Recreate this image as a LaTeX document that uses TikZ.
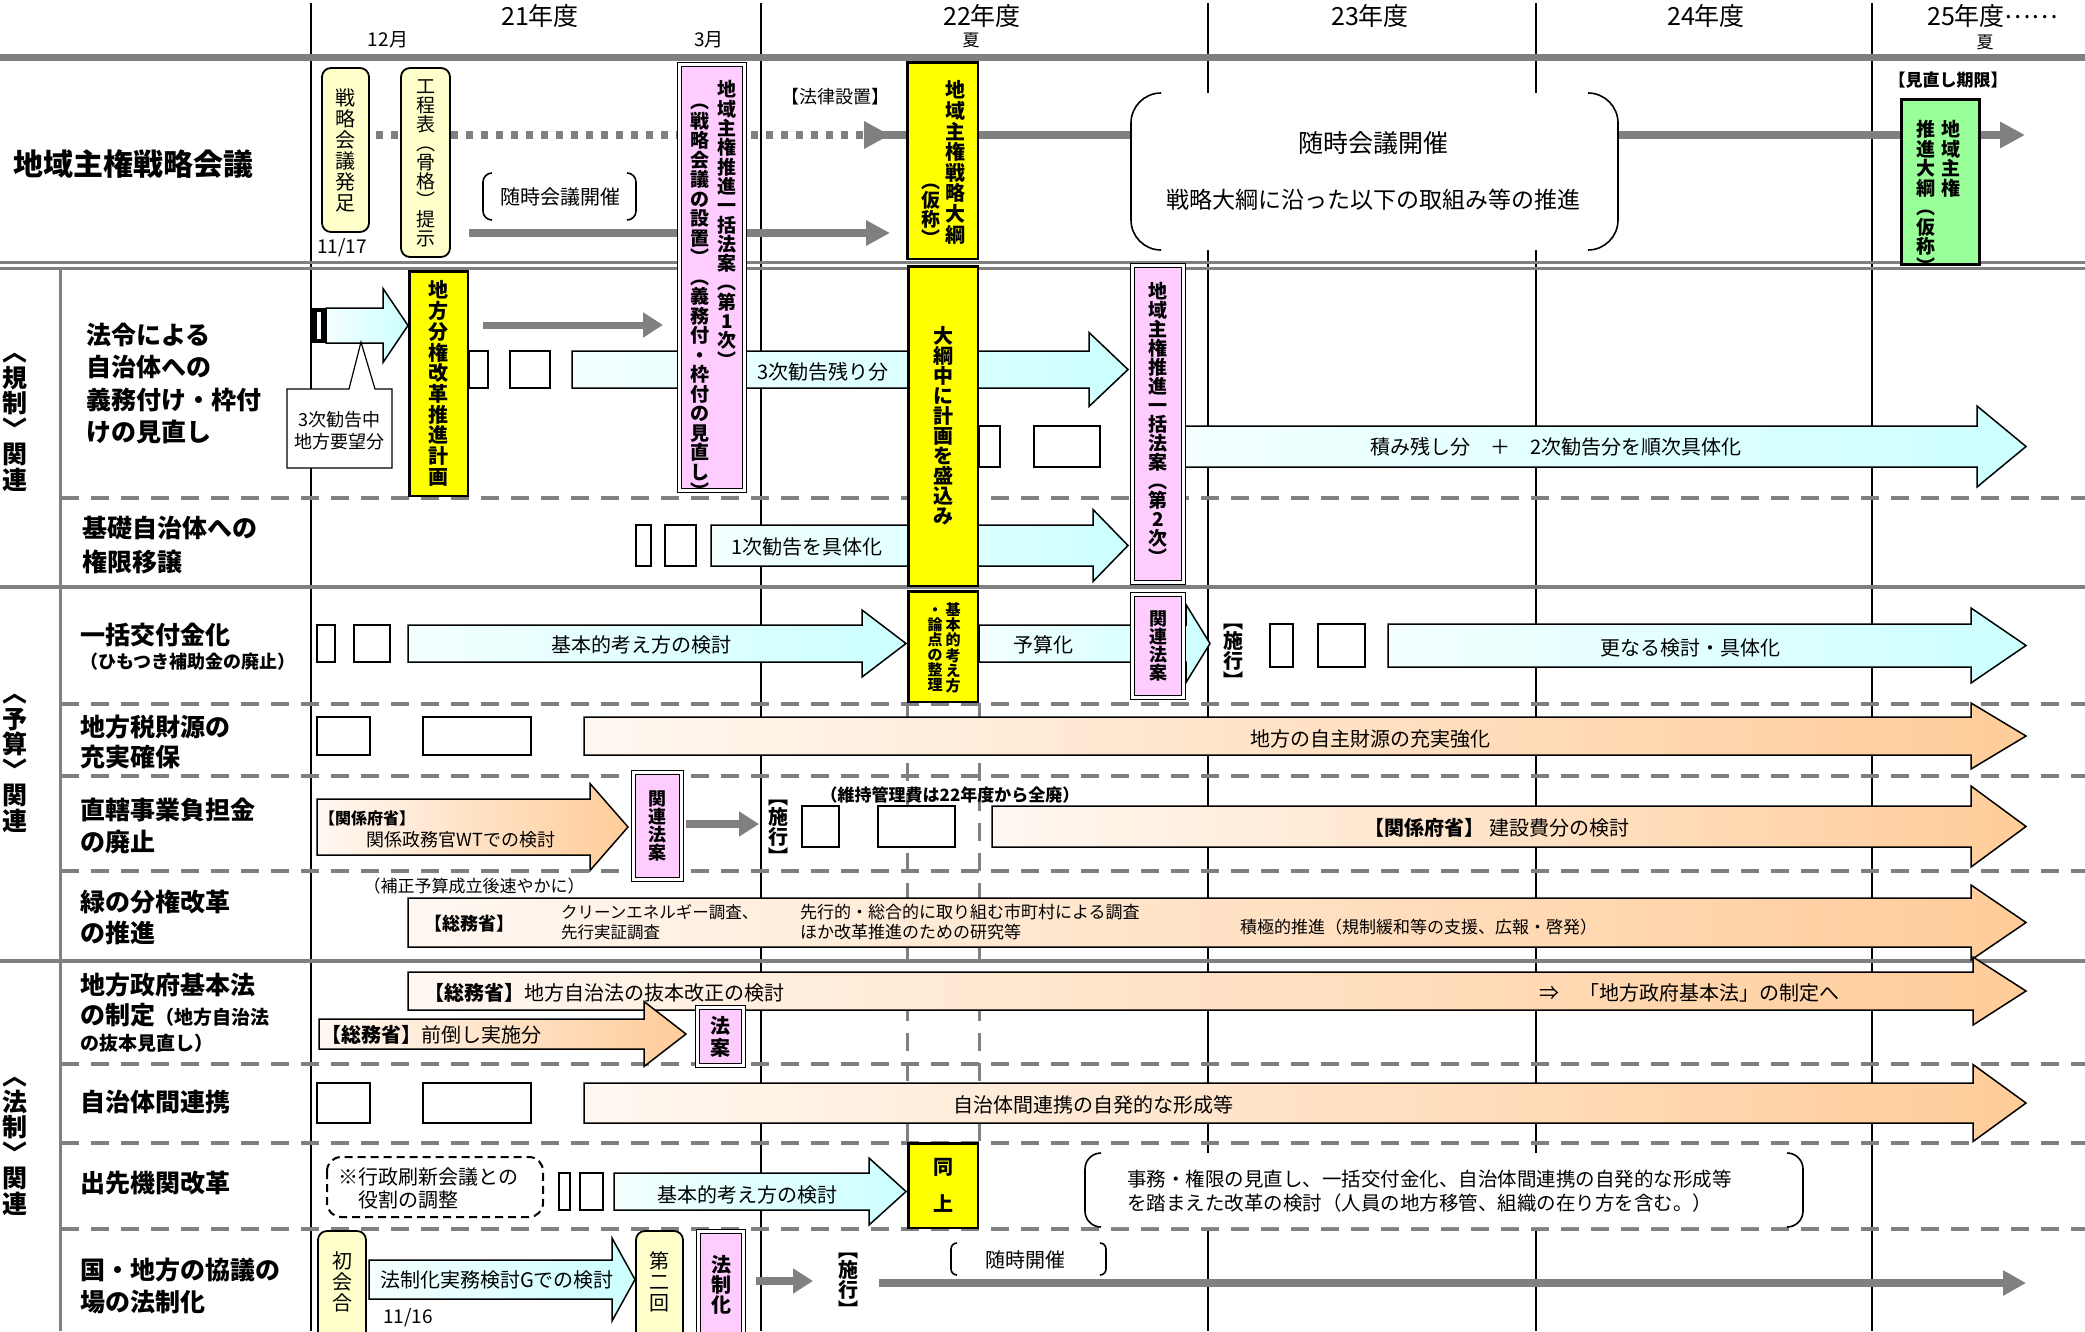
\documentclass[tikz,border=0pt]{standalone}
\usepackage{fontspec}
\setmainfont{Noto Sans CJK JP}
\usetikzlibrary{arrows.meta}

\definecolor{lgray}{HTML}{808080}
\definecolor{cyanA}{HTML}{CCFFFF}
\definecolor{cyanL}{HTML}{F4FFFF}
\definecolor{orangeA}{HTML}{FFCC99}
\definecolor{orangeL}{HTML}{FFF8F2}
\definecolor{pinkc}{HTML}{FFCCFF}
\definecolor{creamc}{HTML}{FFFFCC}
\definecolor{yellowc}{HTML}{FFFF00}
\definecolor{greenc}{HTML}{99FF99}

\newcommand\fs[2]{\fontsize{#1}{#2}\selectfont}
% vertical (tategaki) stack of characters
\makeatletter
\newcommand\vt[2][0pt]{\vbox{\offinterlineskip\@tfor\vtch:=#2\do{\hbox to 1em{\vrule height .88em depth .12em width 0pt\hss\vtch\hss}\kern#1}\unkern}}
\makeatother

% block arrow: x1, x2, y centre, body half, head half, head length
\newcommand\barrow[7][cyanarrow]{%
  \draw[#1] (#2,{#4-#5}) -- ({#3-#7},{#4-#5}) -- ({#3-#7},{#4-#6}) -- (#3,#4)
    -- ({#3-#7},{#4+#6}) -- ({#3-#7},{#4+#5}) -- (#2,{#4+#5}) -- cycle;}
% box with round brackets only
\newcommand\bracketbox[5]{%
  \fill[white, rounded corners=#5] (#1,#2) rectangle (#3,#4);
  \draw[bracket, rounded corners=#5] ({#1+#5},#2) -- (#1,#2) -- (#1,#4) -- ({#1+#5},#4);
  \draw[bracket, rounded corners=#5] ({#3-#5},#2) -- (#3,#2) -- (#3,#4) -- ({#3-#5},#4);}

\tikzset{
  yearline/.style={draw=black, line width=1.3pt},
  grprule/.style={draw=lgray, line width=4pt},
  rowrule/.style={draw=lgray, line width=4pt, dash pattern=on 18pt off 12pt},
  colrule/.style={draw=lgray, line width=3pt, dash pattern=on 18pt off 12pt},
  garrow/.style={draw=lgray, line width=8pt, -{Triangle[length=20pt,width=24pt]}},
  cyanarrow/.style={draw=black, line width=1.5pt, left color=cyanL, right color=cyanA},
  orangearrow/.style={draw=black, line width=1.5pt, left color=orangeL, right color=orangeA},
  wbox/.style={draw=black, line width=1.5pt, fill=white},
  creambox/.style={draw=black, line width=1.8pt, fill=creamc, rounded corners=9pt, inner sep=0pt, font=\fs{20}{20}},
  yellowbox/.style={draw=black, line width=2.5pt, fill=yellowc, inner sep=0pt, font=\bfseries\fs{20}{20}},
  pinkbox/.style={draw=black, line width=1.2pt, double=white, double distance=2.5pt, fill=pinkc, inner sep=0pt, font=\bfseries\fs{19}{19}},
  greenbox/.style={draw=black, line width=3pt, fill=greenc, inner sep=0pt},
  bracket/.style={draw=black, line width=1.6pt},
  vcol/.style={inner sep=0pt, font=\bfseries\fs{19}{19}},
  txt/.style={inner sep=0pt, font=\fs{20}{24}},
  yeartxt/.style={inner sep=0pt, font=\fs{25}{28}},
  rowlabel/.style={inner sep=0pt, anchor=west, align=left, font=\bfseries\fs{25}{32.5}},
}

\begin{document}
\begin{tikzpicture}[x=1pt, y=-1pt, line join=miter]
\fill[white] (0,0) rectangle (2085,1331);
\useasboundingbox (0,0) rectangle (2085,1331);

% grid
\foreach \xx in {311,761,1208,1536,1872} \draw[yearline] (\xx,3) -- (\xx,1331);
\draw[lgray, line width=7pt] (0,57) -- (2085,57);
\draw[lgray, line width=2.5pt] (0,262.5) -- (2085,262.5);
\draw[lgray, line width=2.5pt] (0,268.5) -- (2085,268.5);
\draw[lgray, line width=3pt] (60,268) -- (60,1331);
\foreach \yy in {587,961} \draw[grprule] (0,\yy) -- (2085,\yy);
\foreach \yy in {498,704,776,871,1064,1143,1229} \draw[rowrule] (61,\yy) -- (2085,\yy);
\foreach \xx in {907,979} \draw[colrule] (\xx,703) -- (\xx,1142);

% years
\node[yeartxt] (y21) at (540,16) {21年度};
\node[yeartxt] (y22) at (982,16) {22年度};
\node[yeartxt] (y23) at (1370,16) {23年度};
\node[yeartxt] (y24) at (1706,16) {24年度};
\node[yeartxt, anchor=west] (y25) at (1927,16) {25年度\raisebox{.3em}{……}};
\node[txt, font=\fs{19}{22}] (m12) at (388,40) {12月};
\node[txt, font=\fs{19}{22}] (m3) at (709,40) {3月};
\node[txt, font=\fs{17}{20}] (natsu22) at (971,40) {夏};
\node[txt, font=\fs{17}{20}] (natsu25) at (1985,42) {夏};

% group labels
\node[vcol, font=\bfseries\fs{25}{25}] (kisei) at (15,416) {\vt[0.5pt]{︿規制﹀関連}};
\node[vcol, font=\bfseries\fs{25}{25}] (yosan) at (15,757) {\vt[0.5pt]{︿予算﹀関連}};
\node[vcol, font=\bfseries\fs{25}{25}] (hosei) at (15,1140) {\vt[0.5pt]{︿法制﹀関連}};

% row labels
\node[rowlabel, font=\bfseries\fs{30}{36}] (kaigi) at (13,164) {地域主権戦略会議};
\node[rowlabel] (horei) at (86,383.5) {法令による\\自治体への\\義務付け・枠付\\けの見直し};
\node[rowlabel, font=\bfseries\fs{25}{34}] (kiso) at (82,545) {基礎自治体への\\権限移譲};
\node[rowlabel] (ikkatsu) at (80,635) {一括交付金化};
\node[rowlabel, font=\bfseries\fs{18}{21}] (himotsuki) at (80,662) {（ひもつき補助金の廃止）};
\node[rowlabel, font=\bfseries\fs{25}{30}] (zeigen) at (80,742) {地方税財源の\\充実確保};
\node[rowlabel] (chokkatsu) at (80,826) {直轄事業負担金\\の廃止};
\node[rowlabel, font=\bfseries\fs{25}{31}] (midori) at (80,917.5) {緑の分権改革\\の推進};
\node[rowlabel] (kihonho) at (80,985) {地方政府基本法};
\node[rowlabel] (seiteiL) at (80,1015) {の制定{\fs{19}{22}（地方自治法}};
\node[rowlabel, font=\bfseries\fs{19}{22}] (bapponL) at (80,1043) {の抜本見直し）};
\node[rowlabel] (renkeiL) at (80,1102) {自治体間連携};
\node[rowlabel] (demisakiL) at (80,1183) {出先機関改革};
\node[rowlabel] (kyogi) at (80,1286) {国・地方の協議の\\場の法制化};

% gray connectors
\coordinate (dotS) at (376,135); \coordinate (dotE) at (890,135);
\draw[garrow, dash pattern=on 7pt off 8pt, -{Triangle[length=26pt,width=26pt]}] (dotS) -- (dotE);
\coordinate (mainS) at (878,135); \coordinate (mainE) at (2025,135);
\draw[garrow, -{Triangle[length=25pt,width=25pt]}] (mainS) -- (mainE);
\coordinate (zuiS) at (469,233); \coordinate (zuiE) at (890,233);
\draw[garrow, -{Triangle[length=24pt,width=24pt]}] (zuiS) -- (zuiE);
\coordinate (keiS) at (483,325); \coordinate (keiE) at (663,325);
\draw[garrow, line width=7pt] (keiS) -- (keiE);
\coordinate (kanS) at (686,824); \coordinate (kanE) at (759,824);
\draw[garrow] (kanS) -- (kanE);
\coordinate (hoS) at (756,1281); \coordinate (hoE) at (813,1281);
\draw[garrow] (hoS) -- (hoE);
\coordinate (zuiBS) at (879,1283); \coordinate (zuiBE) at (2026,1283);
\draw[garrow, -{Triangle[length=23pt,width=24pt]}] (zuiBS) -- (zuiBE);

% small white boxes
\foreach \a/\b/\c/\d in {469/351/488/388, 510/351/550/388, 979/426/1000/467, 1034/426/1100/467,
  636/525/651/566, 665/525/696/566, 317/625/335/662, 354/625/390/662, 1270/624/1293/667,
  1318/624/1365/667, 317/717/370/755, 423/717/531/755, 802/806/839/847, 878/806/955/847,
  317/1083/370/1123, 423/1083/531/1123, 559/1173/570/1210, 580/1173/603/1210}
  \draw[wbox] (\a,\b) rectangle (\c,\d);

% block arrows
\fill[black] (312,308) rectangle (326,343);
\fill[white] (317,312) rectangle (321,339);
\barrow{326}{408}{325.5}{17.5}{37}{25}
\barrow{572}{1128}{369.5}{18.5}{37}{39}
\barrow{1183}{2026}{446.5}{20.5}{40.5}{49}
\barrow{711}{1128}{545.5}{20.5}{36}{35}
\barrow{408}{906}{643.5}{18.5}{33.5}{44}
\barrow{979}{1210}{643.5}{18.5}{39}{24}
\barrow{1388}{2026}{645.5}{21.5}{37.5}{55}
\barrow[orangearrow]{584}{2026}{736}{19}{33}{55}
\barrow[orangearrow]{317}{628}{827}{28}{43.5}{38}
\barrow[orangearrow]{992}{2026}{826.5}{20.5}{40.5}{55}
\barrow[orangearrow]{408}{2026}{922.5}{24.5}{37.5}{55}
\barrow[orangearrow]{408}{2026}{991}{19}{34}{53}
\barrow[orangearrow]{319}{686}{1034}{15}{32.5}{42}
\barrow[orangearrow]{584}{2026}{1103}{20}{38.5}{53}
\barrow{614}{906}{1191.5}{18.5}{33.5}{37}
\barrow{369}{635}{1279.5}{19.5}{41.5}{23}

% callout and dashed box
\draw[wbox, line width=1.2pt] (287,389) -- (349,389) -- (361,342) -- (375,389) -- (392,389)
  -- (392,468) -- (287,468) -- cycle;
\node[txt, font=\fs{18}{22}, align=center] (youbou) at (339.5,431) {3次勧告中\\地方要望分};
\draw[black, line width=2pt, dash pattern=on 8pt off 5pt, rounded corners=14pt] (327,1157) rectangle (543,1217);
\node[txt, align=left, anchor=west, font=\fs{20}{23}] (gyosei) at (338,1188) {※行政刷新会議との\\　役割の調整};

% bracket boxes
\bracketbox{483}{173}{636}{220}{9}
\node[txt] (zuiji1) at (560,197) {随時会議開催};
\bracketbox{1131}{93}{1618}{250}{30}
\node[txt, font=\fs{25}{28}] (zuiji2) at (1373,143) {随時会議開催};
\node[txt, font=\fs{23}{26}] (suishin) at (1373,200) {戦略大綱に沿った以下の取組み等の推進};
\bracketbox{1085}{1153}{1803}{1227}{16}
\node[txt, align=left, anchor=west, font=\fs{19.5}{24}] (kaikaku) at (1127,1191) {事務・権限の見直し、一括交付金化、自治体間連携の自発的な形成等\\を踏まえた改革の検討（人員の地方移管、組織の在り方を含む。）};
\bracketbox{951}{1243}{1106}{1275}{6}
\node[txt] (zuiji3) at (1025,1260) {随時開催};

% cream boxes
\node[creambox, minimum width=47pt, minimum height=164pt] (hossoku) at (345.5,150) {\vt[1pt]{戦略会議発足}};
\node[creambox, minimum width=49pt, minimum height=189pt, font=\fs{19}{19}] (kotei) at (425.5,162.5) {\vt{工程表︵骨格︶提示}};
\node[creambox, minimum width=48pt, minimum height=113pt] (shokai) at (342,1287.5) {};
\node[txt, font=\fs{20}{20}] (shokaiT) at (342,1282) {\vt[1pt]{初会合}};
\node[creambox, minimum width=47pt, minimum height=113pt] (daini) at (659.5,1287.5) {};
\node[txt, font=\fs{20}{20}] (dainiT) at (659.5,1282) {\vt[1pt]{第二回}};

% yellow boxes
\node[yellowbox, minimum width=70.5pt, minimum height=196.5pt] (taiko) at (942.5,160.5) {};
\node[vcol, anchor=north, font=\bfseries\fs{20}{20}] (taikoR) at (955,80) {\vt[0.6pt]{地域主権戦略大綱}};
\node[vcol, anchor=south] (taikoL) at (931,248) {\vt{︵仮称︶}};
\node[yellowbox, minimum width=58.5pt, minimum height=224.5pt] (keikaku) at (438.5,383.5) {\vt[0.7pt]{地方分権改革推進計画}};
\node[yellowbox, minimum width=69.5pt, minimum height=319.5pt] (moriko) at (943,426) {\vt{大綱中に計画を盛込み}};
\node[yellowbox, minimum width=69.5pt, minimum height=110.5pt] (kihon) at (943,646.5) {};
\node[vcol, anchor=north, font=\bfseries\fs{15}{15}] (kihonR) at (953,602) {\vt[0.2pt]{基本的考え方}};
\node[vcol, anchor=north, font=\bfseries\fs{15}{15}] (kihonL) at (935,602) {\vt{・論点の整理}};
\node[yellowbox, minimum width=69.5pt, minimum height=84.5pt] (dojo) at (943,1185.5) {\vt[17pt]{同上}};

% pink boxes
\node[pinkbox, minimum width=65pt, minimum height=426pt] (ikkatsu1) at (712,277.5) {};
\node[vcol, anchor=north] (ikkatsu1R) at (727,80) {\vt[0.3pt]{地域主権推進一括法案︵第1次︶}};
\node[vcol, anchor=north] (ikkatsu1L) at (700,92) {\vt[0.5pt]{︵戦略会議の設置︶︵義務付・枠付の見直し︶}};
\node[pinkbox, minimum width=51pt, minimum height=317pt] (ikkatsu2) at (1158,424) {\vt{地域主権推進一括法案︵第2次︶}};
\node[pinkbox, minimum width=51pt, minimum height=103pt, font=\bfseries\fs{18}{18}] (kanren3) at (1158,646) {\vt{関連法案}};
\node[pinkbox, minimum width=48pt, minimum height=107pt, font=\bfseries\fs{18}{18}] (kanren4) at (657.5,826) {\vt{関連法案}};
\node[pinkbox, minimum width=46pt, minimum height=58pt, font=\bfseries\fs{20}{20}] (hoan) at (720.5,1036.5) {\vt[2pt]{法案}};
\node[pinkbox, minimum width=45pt, minimum height=111pt] (hoseika) at (721,1287) {};
\node[vcol, font=\bfseries\fs{20}{20}] (hoseikaT) at (721,1285) {\vt{法制化}};

% green box
\node[greenbox, minimum width=78pt, minimum height=165pt] (suishintaiko) at (1940.5,182) {};
\node[vcol, anchor=north] (suishinR) at (1951,120) {\vt[0.5pt]{地域主権}};
\node[vcol, anchor=north] (suishinL) at (1926,120) {\vt[0.5pt]{推進大綱︵仮称︶}};
\node[txt, font=\bfseries\fs{17}{20}] (minaoshi) at (1948,80) {【見直し期限】};
\node[txt, font=\fs{18}{21}] (horitsu) at (835,97) {【法律設置】};
\node[txt, font=\fs{19}{22}] (d1117) at (342,248) {11/17};
\node[txt, font=\fs{19}{22}] (d1116) at (408,1318) {11/16};

% shikou
\node[vcol, font=\bfseries\fs{20}{20}] (seko1) at (1233,651) {\vt{︻施行︼}};
\node[vcol, font=\bfseries\fs{20}{20}] (seko2) at (778,827) {\vt{︻施行︼}};
\node[vcol, font=\bfseries\fs{20}{20}] (seko3) at (848,1280) {\vt{︻施行︼}};

% texts on arrows
\node[txt] (nokori3) at (823,372) {3次勧告残り分};
\node[txt] (tsumi) at (1556,447) {積み残し分　＋　2次勧告分を順次具体化};
\node[txt] (gutai1) at (807,547) {1次勧告を具体化};
\node[txt] (kento1) at (641,645) {基本的考え方の検討};
\node[txt] (yosanka) at (1043,645) {予算化};
\node[txt] (saranaru) at (1690,648) {更なる検討・具体化};
\node[txt] (jishu) at (1370,739) {地方の自主財源の充実強化};
\node[txt, font=\bfseries\fs{16}{19}, anchor=west] (fusho1) at (319,818) {【関係府省】};
\node[txt, font=\fs{18}{21}] (seimukan) at (461,840) {関係政務官WTでの検討};
\node[txt, font=\bfseries\fs{17}{20}] (iji) at (950,795) {（維持管理費は22年度から全廃）};
\node[txt] (kensetsu) at (1497,828) {\textbf{【関係府省】}\ 建設費分の検討};
\node[txt, font=\fs{17}{20}] (hoseiyosan) at (474,886) {（補正予算成立後速やかに）};
\node[txt, font=\bfseries\fs{18}{21}] (somu1) at (469,924) {【総務省】};
\node[txt, font=\fs{16.5}{20}, align=left, anchor=west] (clean) at (561,922) {クリーンエネルギー調査、\\先行実証調査};
\node[txt, font=\fs{17}{20}, align=left, anchor=west] (senko) at (800,922) {先行的・総合的に取り組む市町村による調査\\ほか改革推進のための研究等};
\node[txt, font=\fs{17}{20}, anchor=west] (sekkyoku) at (1240,927) {積極的推進（規制緩和等の支援、広報・啓発）};
\node[txt, anchor=west] (bappon) at (424,993) {\textbf{【総務省】}地方自治法の抜本改正の検討};
\node[txt, anchor=west] (seitei) at (1539,993) {⇒　「地方政府基本法」の制定へ};
\node[txt, anchor=west] (maedaoshi) at (321,1035) {\textbf{【総務省】}前倒し実施分};
\node[txt] (renkei) at (1093,1105) {自治体間連携の自発的な形成等};
\node[txt] (kento2) at (747,1195) {基本的考え方の検討};
\node[txt] (jitsumu) at (497,1280) {法制化実務検討Gでの検討};
\end{tikzpicture}
\end{document}
